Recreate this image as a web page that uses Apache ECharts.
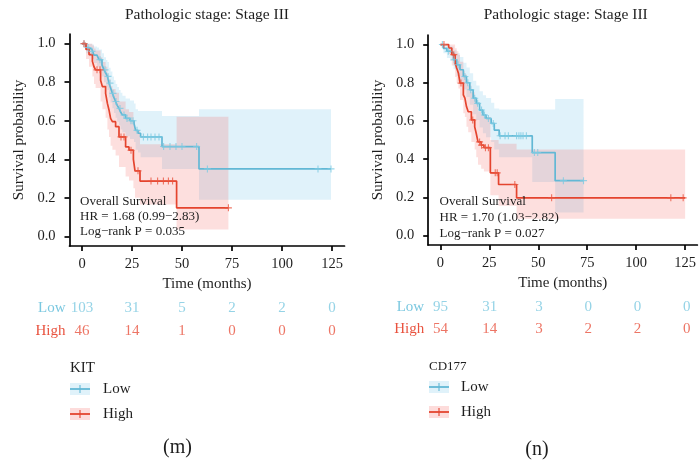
<!DOCTYPE html>
<html>
<head>
<meta charset="utf-8">
<script src="https://cdn.jsdelivr.net/npm/echarts@6/dist/echarts.min.js"></script>
<style>
html,body{margin:0;padding:0;background:#fff}
#c{width:699px;height:464px}
</style>
</head>
<body>
<div id="c"></div>
<script>
// ---- axis ticks ----
const timeTicks = [0, 25, 50, 75, 100, 125];
const survTicks = [0, 0.2, 0.4, 0.6, 0.8, 1.0];
const riskGroups = ['Low', 'High'];

// ---- KIT: Kaplan-Meier steps (months, survival) with 95% CI ----
const kitLowTime  = [0, 2, 3.5, 5, 6, 7.5, 8.5, 10, 11, 12, 12.7, 13.5, 14.3, 15.2, 16, 16.8, 17.6, 18.5, 19.3, 20.2, 21.8, 24, 26, 26.8, 28, 29.3, 40, 58.5];
const kitLowSurv  = [1, 0.98, 0.97, 0.96, 0.94, 0.93, 0.917, 0.89, 0.864, 0.845, 0.83, 0.795, 0.77, 0.742, 0.72, 0.70, 0.68, 0.664, 0.645, 0.63, 0.612, 0.60, 0.586, 0.55, 0.535, 0.516, 0.466, 0.35];
const kitLowUpper = [1, 1, 1, 0.995, 0.985, 0.98, 0.97, 0.95, 0.93, 0.915, 0.905, 0.875, 0.855, 0.83, 0.81, 0.79, 0.775, 0.76, 0.745, 0.73, 0.715, 0.705, 0.69, 0.66, 0.65, 0.65, 0.625, 0.66];
const kitLowLower = [1, 0.95, 0.935, 0.92, 0.9, 0.88, 0.865, 0.83, 0.8, 0.775, 0.76, 0.72, 0.695, 0.665, 0.64, 0.615, 0.595, 0.575, 0.555, 0.54, 0.52, 0.505, 0.49, 0.45, 0.435, 0.41, 0.35, 0.19];
const kitLowEnd = 124.5;
const kitLowCensor = [1, 3, 5, 9, 11.5, 13, 14, 15.5, 17, 19, 21, 22.5, 24.5, 25.5, 27.5, 30.7, 32.8, 34.5, 36.5, 38.5, 40.8, 44, 47, 50, 57.3, 62.7, 118, 124.5];

const kitHighTime  = [0, 2, 3.5, 5.2, 6, 6.8, 9.3, 10.2, 11.8, 12.7, 13.5, 14.3, 15.2, 16.8, 18.5, 21.8, 23.5, 25.7, 26.5, 29, 47.3];
const kitHighSurv  = [1, 0.97, 0.943, 0.908, 0.88, 0.864, 0.81, 0.777, 0.742, 0.69, 0.656, 0.612, 0.595, 0.569, 0.516, 0.464, 0.447, 0.40, 0.34, 0.287, 0.148];
const kitHighUpper = [1, 1, 1, 0.99, 0.975, 0.965, 0.93, 0.905, 0.88, 0.84, 0.815, 0.78, 0.765, 0.745, 0.70, 0.66, 0.645, 0.60, 0.55, 0.478, 0.62];
const kitHighLower = [1, 0.92, 0.88, 0.83, 0.79, 0.77, 0.70, 0.66, 0.615, 0.555, 0.515, 0.47, 0.45, 0.42, 0.36, 0.31, 0.29, 0.25, 0.20, 0.165, 0.035];
const kitHighEnd = 73.2;
const kitHighCensor = [1, 7.5, 9, 19.5, 21, 24.5, 28, 34.5, 37.8, 40.7, 43.2, 45.3, 73.2];

const kitRiskLow  = [103, 31, 5, 2, 2, 0];
const kitRiskHigh = [46, 14, 1, 0, 0, 0];

// ---- CD177 ----
const cdLowTime  = [0, 1.5, 3.3, 5, 6.7, 8.3, 10, 11.7, 13.3, 15, 16.7, 18.3, 20, 21.7, 23.3, 25.9, 27.5, 30, 46.9, 58.6];
const cdLowSurv  = [1, 0.98, 0.965, 0.956, 0.92, 0.894, 0.868, 0.833, 0.80, 0.763, 0.719, 0.692, 0.657, 0.631, 0.613, 0.587, 0.552, 0.522, 0.434, 0.287];
const cdLowUpper = [1, 1, 0.995, 0.99, 0.97, 0.955, 0.935, 0.905, 0.88, 0.85, 0.81, 0.785, 0.755, 0.735, 0.72, 0.695, 0.665, 0.66, 0.66, 0.715];
const cdLowLower = [1, 0.955, 0.93, 0.915, 0.87, 0.835, 0.805, 0.765, 0.725, 0.685, 0.635, 0.605, 0.565, 0.535, 0.515, 0.49, 0.45, 0.41, 0.28, 0.12];
const cdLowEnd = 73.1;
const cdLowCensor = [1, 4, 7, 9, 12.5, 14, 15.5, 17.5, 19, 21, 22.5, 24.5, 27, 30.5, 33, 34.7, 38.9, 40.1, 41.1, 42.2, 43.9, 48, 49.7, 62.8, 73.1];

const cdHighTime  = [0, 4.2, 5.8, 7.5, 8.3, 9.2, 10, 11.7, 12.5, 13.3, 14.2, 15.8, 17.5, 18.3, 19.2, 20.8, 22.2, 25.5, 29.7, 38.9];
const cdHighSurv  = [1, 0.982, 0.947, 0.903, 0.877, 0.85, 0.798, 0.736, 0.719, 0.675, 0.648, 0.605, 0.569, 0.534, 0.49, 0.473, 0.46, 0.328, 0.267, 0.197];
const cdHighUpper = [1, 1, 1, 0.98, 0.965, 0.945, 0.91, 0.86, 0.845, 0.81, 0.785, 0.75, 0.72, 0.69, 0.65, 0.635, 0.62, 0.5, 0.48, 0.45];
const cdHighLower = [1, 0.95, 0.89, 0.83, 0.8, 0.77, 0.71, 0.64, 0.62, 0.57, 0.54, 0.49, 0.45, 0.41, 0.37, 0.35, 0.335, 0.21, 0.155, 0.088];
const cdHighEnd = 125;
const cdHighCensor = [1.8, 6.8, 10.5, 16.5, 20, 21, 23, 24.5, 28, 29, 38, 56.8, 117.7, 124];

const cdRiskLow  = [95, 31, 3, 0, 0, 0];
const cdRiskHigh = [54, 14, 3, 2, 2, 0];

// ---- texts ----
const panelTitle = 'Pathologic stage: Stage III';
const kitStats = ['Overall Survival', 'HR = 1.68 (0.99\u22122.83)', 'Log\u2212rank P = 0.035'];
const cdStats  = ['Overall Survival', 'HR = 1.70 (1.03\u22122.82)', 'Log\u2212rank P = 0.027'];

// ---- style ----
const FONT = '"Liberation Serif", "Times New Roman", serif';
const BLUE = '#62b8d5', RED = '#e4442e';
const BLUE_CENSOR = '#7dcae2', RED_CENSOR = '#ea5540';
const BLUE_TEXT = '#7bc8e0', RED_TEXT = '#e9533f';
const BLUE_BAND = 'rgba(100,190,230,0.2)', RED_BAND = 'rgba(245,95,90,0.2)';
const INK = '#1e1e1e';

const panels = [
  {
    plot: { left: 69.5, top: 34, width: 275, height: 212 },
    risk: { left: 69.5, top: 296.5, width: 275, height: 46 },
    groups: [
      { T: kitLowTime, S: kitLowSurv, U: kitLowUpper, L: kitLowLower, end: kitLowEnd, cens: kitLowCensor, line: BLUE, band: BLUE_BAND, mark: BLUE_CENSOR },
      { T: kitHighTime, S: kitHighSurv, U: kitHighUpper, L: kitHighLower, end: kitHighEnd, cens: kitHighCensor, line: RED, band: RED_BAND, mark: RED_CENSOR }
    ],
    riskLow: kitRiskLow, riskHigh: kitRiskHigh,
    stats: kitStats, statsX: 80, statsY: [202, 217, 231.5],
    legendTitle: 'KIT', legendTitleSize: 15, legendX: 70, legendTitleY: 368, legendY: [389, 414], legendTextX: 103,
    tag: '(m)', tagX: 177.5, tagY: 448
  },
  {
    plot: { left: 428.2, top: 35, width: 275, height: 210 },
    risk: { left: 428.2, top: 295.4, width: 275, height: 45.2 },
    groups: [
      { T: cdLowTime, S: cdLowSurv, U: cdLowUpper, L: cdLowLower, end: cdLowEnd, cens: cdLowCensor, line: BLUE, band: BLUE_BAND, mark: BLUE_CENSOR },
      { T: cdHighTime, S: cdHighSurv, U: cdHighUpper, L: cdHighLower, end: cdHighEnd, cens: cdHighCensor, line: RED, band: RED_BAND, mark: RED_CENSOR }
    ],
    riskLow: cdRiskLow, riskHigh: cdRiskHigh,
    stats: cdStats, statsX: 439.5, statsY: [202, 218, 233.5],
    legendTitle: 'CD177', legendTitleSize: 13, legendX: 429, legendTitleY: 366.5, legendY: [387, 412], legendTextX: 461,
    tag: '(n)', tagX: 537, tagY: 450
  }
];

// survival value of a step curve at time t
function survAt(T, S, t) {
  let v = S[0];
  for (let i = 0; i < T.length; i++) { if (T[i] <= t) v = S[i]; else break; }
  return v;
}

// step polygon for a confidence band
function bandPolygon(g, api) {
  const pts = [];
  const n = g.T.length;
  for (let i = 0; i < n; i++) {
    const t1 = i + 1 < n ? g.T[i + 1] : g.end;
    pts.push(api.coord([g.T[i], g.U[i]]), api.coord([t1, g.U[i]]));
  }
  for (let i = n - 1; i >= 0; i--) {
    const t1 = i + 1 < n ? g.T[i + 1] : g.end;
    pts.push(api.coord([t1, g.L[i]]), api.coord([g.T[i], g.L[i]]));
  }
  return pts;
}

const grid = [], xAxis = [], yAxis = [], series = [], graphic = [];
const censorSymbol = 'path://M4,0L4,8M0,4L8,4';

function txt(x, y, text, size, color, align) {
  return { type: 'text', x: x, y: y, z: 100,
    style: { text: text, font: size + 'px ' + FONT, fill: color || INK, align: align || 'left', verticalAlign: 'middle' } };
}

panels.forEach((p, k) => {
  const gi = k * 2;
  grid.push(Object.assign({ containLabel: false }, p.plot));
  grid.push(Object.assign({ containLabel: false }, p.risk));

  xAxis.push({
    gridIndex: gi, type: 'value', min: -6.25, max: 131.25,
    axisLine: { show: true, onZero: false, lineStyle: { color: '#000', width: 1.7 } },
    axisTick: { show: true, customValues: timeTicks, length: 5, lineStyle: { color: '#000', width: 1.7 } },
    axisLabel: { customValues: timeTicks, margin: 11, fontFamily: FONT, fontSize: 14.5, color: INK },
    splitLine: { show: false },
    name: 'Time (months)', nameLocation: 'middle', nameGap: 31,
    nameTextStyle: { fontFamily: FONT, fontSize: 15, color: INK }
  });
  yAxis.push({
    gridIndex: gi, type: 'value', min: -0.05, max: 1.05,
    axisLine: { show: true, onZero: false, lineStyle: { color: '#000', width: 1.7 } },
    axisTick: { show: true, customValues: survTicks, length: 5, lineStyle: { color: '#000', width: 1.7 } },
    axisLabel: { customValues: survTicks, margin: 14, fontFamily: FONT, fontSize: 14.5, color: INK, formatter: v => v.toFixed(1) },
    splitLine: { show: false },
    name: 'Survival probability', nameLocation: 'middle', nameGap: 43, nameRotate: 90,
    nameTextStyle: { fontFamily: FONT, fontSize: 15, color: INK }
  });

  // risk table axes
  xAxis.push({ gridIndex: gi + 1, type: 'value', min: -6.25, max: 131.25, show: false });
  yAxis.push({
    gridIndex: gi + 1, type: 'category', data: riskGroups, inverse: true,
    axisLine: { show: false }, axisTick: { show: false }, splitLine: { show: false },
    axisLabel: { margin: 4, fontFamily: FONT, fontSize: 15, color: v => (v === 'Low' ? BLUE_TEXT : RED_TEXT) }
  });

  // confidence bands
  p.groups.forEach(g => {
    series.push({
      type: 'custom', xAxisIndex: gi, yAxisIndex: gi, data: [[0, 0]], silent: true, z: 1,
      renderItem: (params, api) => ({
        type: 'polygon', shape: { points: bandPolygon(g, api) }, style: { fill: g.band }
      })
    });
  });
  // survival curves
  p.groups.forEach(g => {
    const pts = g.T.map((t, i) => [t, g.S[i]]);
    pts.push([g.end, g.S[g.S.length - 1]]);
    series.push({
      type: 'line', xAxisIndex: gi, yAxisIndex: gi, data: pts, step: 'end',
      showSymbol: false, silent: true, z: 3,
      lineStyle: { color: g.line, width: 1.7 }
    });
  });
  // censor marks
  p.groups.forEach(g => {
    series.push({
      type: 'scatter', xAxisIndex: gi, yAxisIndex: gi, silent: true, z: 4,
      data: g.cens.map(t => [t, survAt(g.T, g.S, t)]),
      symbol: censorSymbol, symbolSize: 7,
      itemStyle: { color: 'none', borderColor: g.mark, borderWidth: 1.1 }
    });
  });
  // numbers at risk
  [[p.riskLow, 'Low', BLUE_TEXT], [p.riskHigh, 'High', RED_TEXT]].forEach(([vals, grp, col]) => {
    series.push({
      type: 'scatter', xAxisIndex: gi + 1, yAxisIndex: gi + 1, symbolSize: 0, silent: true,
      data: vals.map((v, i) => [timeTicks[i], grp, v]),
      label: { show: true, position: 'inside', formatter: d => String(d.value[2]),
        fontFamily: FONT, fontSize: 15, color: col }
    });
  });

  // title
  graphic.push(txt(p.plot.left + p.plot.width / 2, 15, panelTitle, 15.5, INK, 'center'));
  // statistics annotation
  p.stats.forEach((s, i) => graphic.push(txt(p.statsX, p.statsY[i], s, 13, INK, 'left')));
  // legend
  graphic.push(txt(p.legendX, p.legendTitleY, p.legendTitle, p.legendTitleSize, INK, 'left'));
  [['Low', BLUE, 'rgba(100,190,230,0.2)'], ['High', RED, 'rgba(245,95,90,0.22)']].forEach(([name, c, f], i) => {
    const cy = p.legendY[i];
    graphic.push({ type: 'rect', z: 100, shape: { x: p.legendX, y: cy - 6, width: 20, height: 12 }, style: { fill: f } });
    graphic.push({ type: 'line', z: 101, shape: { x1: p.legendX, y1: cy, x2: p.legendX + 20, y2: cy }, style: { stroke: c, lineWidth: 1.8 } });
    graphic.push({ type: 'line', z: 101, shape: { x1: p.legendX + 10, y1: cy - 4, x2: p.legendX + 10, y2: cy + 4 }, style: { stroke: c, lineWidth: 1.1 } });
    graphic.push(txt(p.legendTextX, cy, name, 15, INK, 'left'));
  });
  graphic.push(txt(p.tagX, p.tagY, p.tag, 20, INK, 'center'));
});

const chart = echarts.init(document.getElementById('c'), null, { renderer: 'canvas' });
chart.setOption({
  animation: false,
  backgroundColor: '#ffffff',
  grid: grid, xAxis: xAxis, yAxis: yAxis, series: series, graphic: graphic
});
</script>
</body>
</html>
